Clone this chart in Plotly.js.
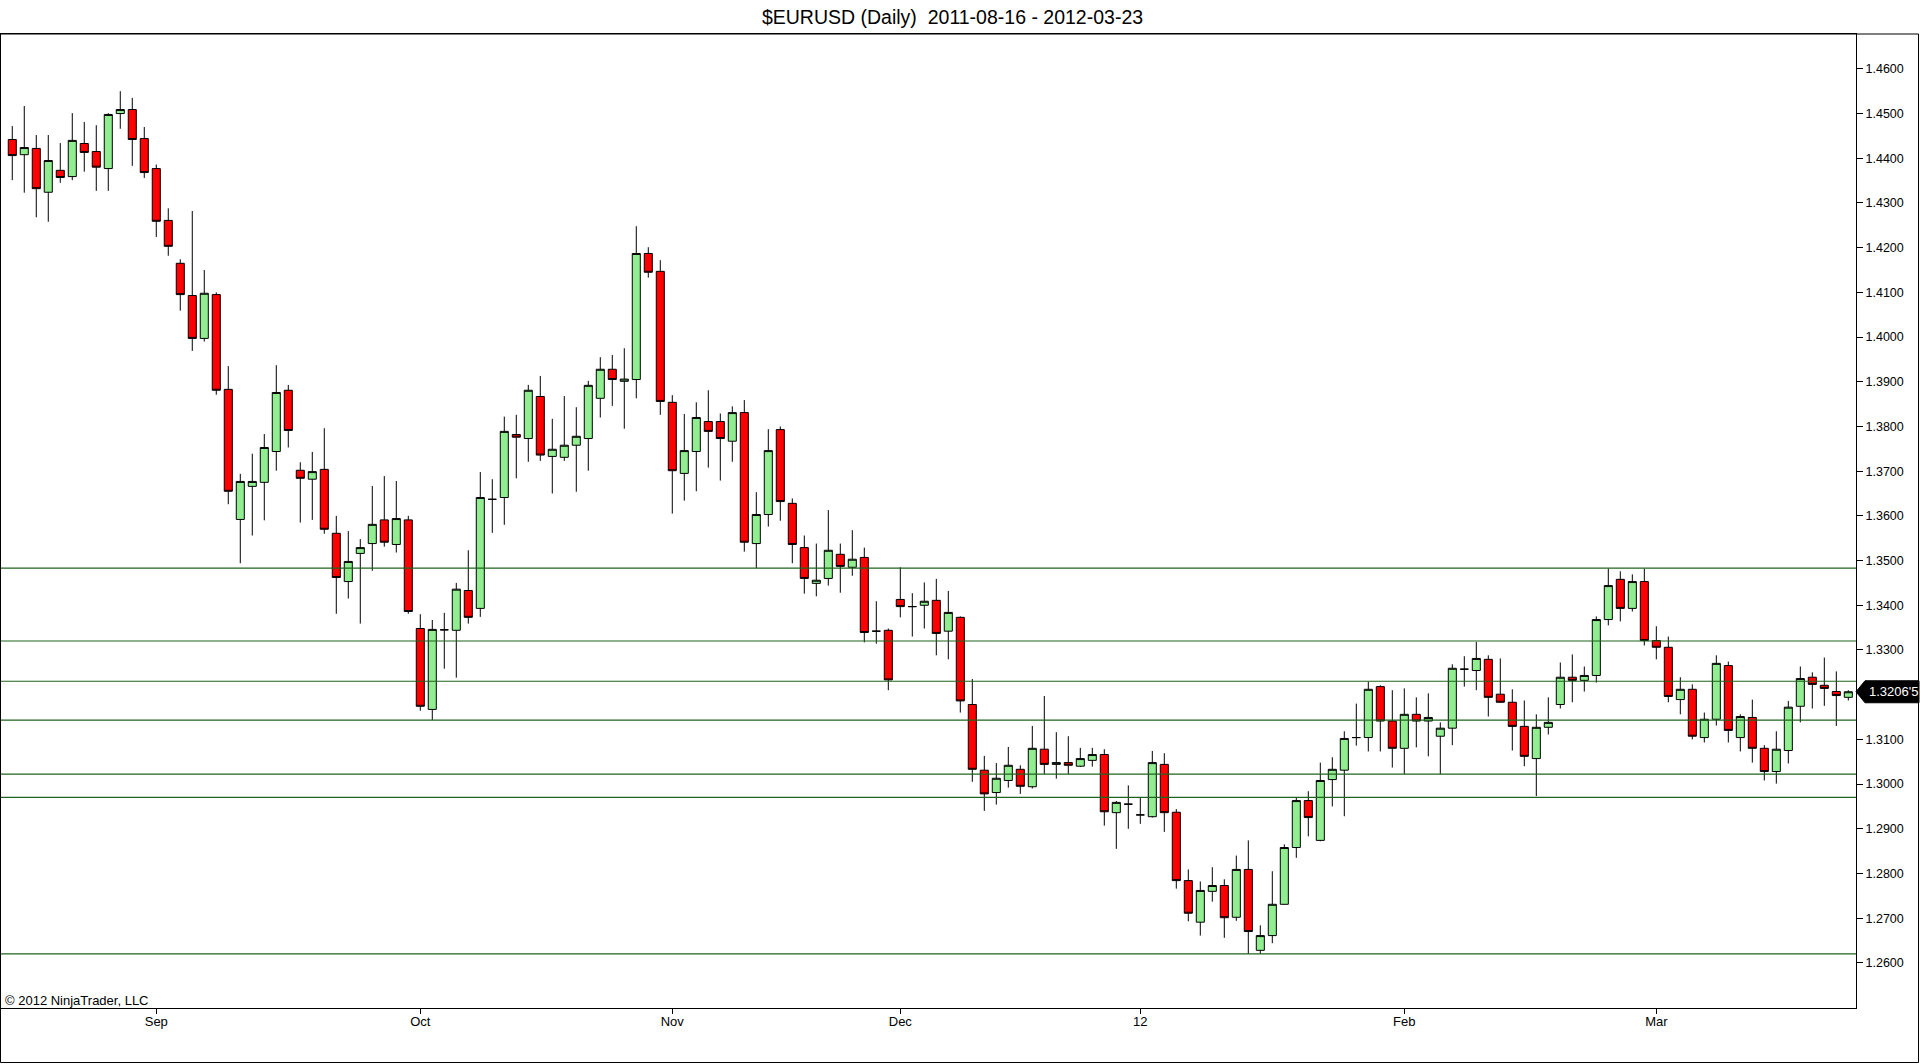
<!DOCTYPE html>
<html>
<head>
<meta charset="utf-8">
<script src="https://cdn.plot.ly/plotly-3.0.1.min.js"></script>
<style>
html,body{margin:0;padding:0;background:#ffffff;}
#chart{width:1920px;height:1064px;}
</style>
</head>
<body>
<div id="chart"></div>
<script>
// ---- data ----
const dates = [
'2011-08-16','2011-08-17','2011-08-18','2011-08-19','2011-08-22','2011-08-23','2011-08-24','2011-08-25','2011-08-26','2011-08-29','2011-08-30','2011-08-31',
'2011-09-01','2011-09-02','2011-09-05','2011-09-06','2011-09-07','2011-09-08','2011-09-09','2011-09-12','2011-09-13','2011-09-14','2011-09-15','2011-09-16',
'2011-09-19','2011-09-20','2011-09-21','2011-09-22','2011-09-23','2011-09-26','2011-09-27','2011-09-28','2011-09-29','2011-09-30',
'2011-10-03','2011-10-04','2011-10-05','2011-10-06','2011-10-07','2011-10-10','2011-10-11','2011-10-12','2011-10-13','2011-10-14',
'2011-10-17','2011-10-18','2011-10-19','2011-10-20','2011-10-21','2011-10-24','2011-10-25','2011-10-26','2011-10-27','2011-10-28','2011-10-31',
'2011-11-01','2011-11-02','2011-11-03','2011-11-04','2011-11-07','2011-11-08','2011-11-09','2011-11-10','2011-11-14','2011-11-15',
'2011-11-16','2011-11-17','2011-11-18','2011-11-21','2011-11-22','2011-11-23','2011-11-28','2011-11-29','2011-11-30',
'2011-12-01','2011-12-02','2011-12-05','2011-12-06','2011-12-07','2011-12-08','2011-12-09','2011-12-12','2011-12-13','2011-12-14',
'2011-12-15','2011-12-16','2011-12-19','2011-12-20','2011-12-21','2011-12-22','2011-12-23','2011-12-27','2011-12-28','2011-12-29',
'2012-01-02','2012-01-03','2012-01-04','2012-01-05','2012-01-06','2012-01-09','2012-01-10','2012-01-11','2012-01-12','2012-01-13',
'2012-01-16','2012-01-17','2012-01-18','2012-01-19','2012-01-20','2012-01-23','2012-01-24','2012-01-25','2012-01-26','2012-01-27','2012-01-30','2012-01-31',
'2012-02-01','2012-02-02','2012-02-03','2012-02-06','2012-02-07','2012-02-08','2012-02-09','2012-02-10','2012-02-13','2012-02-14',
'2012-02-15','2012-02-16','2012-02-17','2012-02-20','2012-02-21','2012-02-22','2012-02-23','2012-02-24','2012-02-27','2012-02-28','2012-02-29',
'2012-03-01','2012-03-02','2012-03-05','2012-03-06','2012-03-07','2012-03-08','2012-03-09','2012-03-12','2012-03-13','2012-03-14',
'2012-03-15','2012-03-16','2012-03-19','2012-03-20','2012-03-21','2012-03-22','2012-03-23'
];
const openP = [
1.4442,1.4408,1.4422,1.4324,1.4373,1.4359,1.4433,1.4415,1.4377,1.4500,1.4509,1.4444,
1.4377,1.4261,1.4165,1.4093,1.3997,1.4095,1.3883,1.3592,1.3666,1.3675,1.3744,1.3881,
1.3702,1.3682,1.3704,1.3561,1.3453,1.3516,1.3538,1.3591,1.3536,1.3591,
1.3348,1.3167,1.3345,1.3344,1.3433,1.3393,1.3637,1.3641,1.3782,1.3773,
1.3867,1.3733,1.3731,1.3758,1.3773,1.3863,1.3928,1.3901,1.3905,1.4187,1.4147,
1.3854,1.3695,1.3744,1.3811,1.3811,1.3767,1.3831,1.3538,1.3603,1.3793,
1.3628,1.3529,1.3449,1.3460,1.3514,1.3485,1.3507,1.3342,1.3344,
1.3413,1.3397,1.3400,1.3411,1.3342,1.3373,1.3178,1.3031,1.2981,1.3008,
1.3033,1.2994,1.3078,1.3044,1.3048,1.3040,1.3053,1.3066,1.2936,1.2955,
1.2931,1.2927,1.3044,1.2937,1.2784,1.2691,1.2760,1.2773,1.2702,1.2809,
1.2628,1.2661,1.2731,1.2858,1.2963,1.2874,1.3010,1.3031,1.3104,1.3104,1.3218,1.3141,
1.3080,1.3156,1.3141,1.3107,1.3125,1.3257,1.3254,1.3279,1.3201,1.3183,
1.3129,1.3057,1.3127,1.3178,1.3239,1.3232,1.3243,1.3368,1.3458,1.3393,1.3453,
1.3321,1.3306,1.3189,1.3212,1.3104,1.3145,1.3265,1.3104,1.3149,1.3080,
1.3028,1.3075,1.3174,1.3239,1.3221,1.3207,1.3194
];
const highP = [
1.4472,1.4517,1.4452,1.4452,1.4434,1.4501,1.4481,1.4474,1.4501,1.4550,1.4535,1.4470,
1.4386,1.4288,1.4174,1.4282,1.4150,1.4100,1.3935,1.3694,1.3739,1.3783,1.3937,1.3893,
1.3720,1.3743,1.3796,1.3600,1.3566,1.3548,1.3667,1.3689,1.3678,1.3600,
1.3380,1.3367,1.3383,1.3450,1.3523,1.3698,1.3682,1.3822,1.3826,1.3893,
1.3913,1.3817,1.3868,1.3843,1.3902,1.3955,1.3960,1.3975,1.4248,1.4201,1.4172,
1.3870,1.3828,1.3854,1.3881,1.3829,1.3845,1.3859,1.3653,1.3794,1.3800,
1.3639,1.3556,1.3538,1.3613,1.3538,1.3568,1.3529,1.3409,1.3348,
1.3485,1.3427,1.3451,1.3459,1.3432,1.3375,1.3235,1.3063,1.3047,1.3083,
1.3042,1.3130,1.3197,1.3116,1.3107,1.3081,1.3081,1.3078,1.2962,1.2997,
1.2970,1.3074,1.3069,1.2944,1.2809,1.2782,1.2814,1.2787,1.2840,1.2874,
1.2684,1.2805,1.2865,1.2970,1.2984,1.3048,1.3060,1.3118,1.3180,1.3229,1.3221,1.3210,
1.3214,1.3194,1.3203,1.3138,1.3268,1.3286,1.3318,1.3288,1.3281,1.3212,
1.3187,1.3156,1.3194,1.3272,1.3290,1.3263,1.3375,1.3482,1.3476,1.3469,1.3482,
1.3353,1.3330,1.3239,1.3223,1.3160,1.3288,1.3274,1.3156,1.3189,1.3087,
1.3118,1.3186,1.3263,1.3250,1.3283,1.3252,1.3210
];
const lowP = [
1.4351,1.4323,1.4268,1.4258,1.4345,1.4351,1.4370,1.4327,1.4327,1.4466,1.4383,1.4356,
1.4224,1.4182,1.4059,1.3969,1.3990,1.3871,1.3626,1.3494,1.3556,1.3590,1.3701,1.3753,
1.3585,1.3591,1.3560,1.3381,1.3415,1.3359,1.3477,1.3531,1.3518,1.3381,
1.3164,1.3143,1.3258,1.3238,1.3359,1.3374,1.3562,1.3580,1.3684,1.3721,
1.3723,1.3650,1.3723,1.3654,1.3701,1.3820,1.3846,1.3795,1.3863,1.4133,1.3826,
1.3605,1.3634,1.3655,1.3708,1.3679,1.3721,1.3520,1.3483,1.3576,1.3589,
1.3494,1.3426,1.3420,1.3444,1.3428,1.3466,1.3317,1.3314,1.3210,
1.3373,1.3330,1.3348,1.3288,1.3279,1.3160,1.3005,1.2940,1.2954,1.2992,
1.2978,1.2990,1.3022,1.3012,1.3022,1.3038,1.3039,1.2907,1.2855,1.2900,
1.2911,1.2925,1.2893,1.2766,1.2693,1.2661,1.2737,1.2656,1.2694,1.2620,
1.2620,1.2644,1.2730,1.2835,1.2883,1.2872,1.2950,1.2928,1.3086,1.3073,1.3073,1.3037,
1.3022,1.3082,1.3062,1.3022,1.3087,1.3218,1.3210,1.3151,1.3182,1.3075,
1.3040,1.2973,1.3111,1.3169,1.3183,1.3207,1.3227,1.3355,1.3364,1.3386,1.3310,
1.3279,1.3183,1.3156,1.3100,1.3093,1.3131,1.3093,1.3073,1.3048,1.3008,
1.3001,1.3046,1.3138,1.3169,1.3175,1.3130,1.3187
];
const closeP = [
1.4406,1.4424,1.4332,1.4395,1.4357,1.4440,1.4413,1.4380,1.4498,1.4509,1.4442,1.4368,
1.4259,1.4203,1.4095,1.3997,1.4098,1.3881,1.3655,1.3677,1.3677,1.3753,1.3876,1.3791,
1.3684,1.3699,1.3570,1.3462,1.3498,1.3529,1.3581,1.3541,1.3594,1.3386,
1.3174,1.3346,1.3345,1.3436,1.3373,1.3641,1.3637,1.3789,1.3776,1.3881,
1.3736,1.3749,1.3758,1.3778,1.3892,1.3928,1.3905,1.3906,1.4187,1.4145,1.3856,
1.3701,1.3746,1.3820,1.3789,1.3773,1.3831,1.3541,1.3603,1.3746,1.3632,
1.3536,1.3460,1.3456,1.3523,1.3487,1.3503,1.3339,1.3342,1.3233,
1.3397,1.3397,1.3409,1.3337,1.3384,1.3186,1.3033,1.2978,1.3013,1.3042,
1.2995,1.3080,1.3044,1.3048,1.3042,1.3057,1.3066,1.2938,1.2959,1.2955,
1.2931,1.3048,1.2936,1.2784,1.2711,1.2762,1.2773,1.2701,1.2809,1.2670,
1.2661,1.2731,1.2858,1.2963,1.2925,1.3008,1.3033,1.3102,1.3104,1.3212,1.3141,1.3080,
1.3156,1.3141,1.3149,1.3125,1.3259,1.3257,1.3281,1.3194,1.3183,1.3129,
1.3062,1.3127,1.3138,1.3239,1.3232,1.3243,1.3368,1.3444,1.3393,1.3453,1.3321,
1.3306,1.3196,1.3212,1.3107,1.3145,1.3270,1.3120,1.3151,1.3080,1.3028,
1.3078,1.3172,1.3236,1.3223,1.3214,1.3198,1.32065
];
const levels = [1.3483, 1.3320, 1.3230, 1.3143, 1.3022, 1.2970, 1.2620];
const monthTickDates = ['2011-09-01','2011-10-03','2011-11-01','2011-12-01','2012-01-02','2012-02-01','2012-03-01'];
const monthTickLabels = ['Sep','Oct','Nov','Dec','12','Feb','Mar'];
// 1.3200 is hidden behind the last-price marker in the reference
const priceTicks = [1.26,1.27,1.28,1.29,1.30,1.31,1.33,1.34,1.35,1.36,1.37,1.38,1.39,1.40,1.41,1.42,1.43,1.44,1.45,1.46];
const titleText = '$EURUSD (Daily) \u00a02011-08-16 - 2012-03-23';
const copyrightText = '\u00a9 2012 NinjaTrader, LLC';

// ---- layout geometry ----
const W = 1920, H = 1064;
const M = {l: 1, r: 64, t: 34, b: 56};
const plotW = W - M.l - M.r, plotH = H - M.t - M.b;
const yRange = [1.2499, 1.4678];
const xRange = [-0.94, dates.length - 1 + 0.64];
const FONT = 'Liberation Sans, Arial, sans-serif';

const pxToPaperX = px => (px - M.l) / plotW;
const pxToPaperY = py => (H - M.b - py) / plotH;
const dataPerPx = (yRange[1] - yRange[0]) / plotH;

const trace = {
  type: 'candlestick',
  x: dates, open: openP, high: highP, low: lowP, close: closeP,
  increasing: {line: {color: '#000000', width: 1}, fillcolor: '#90EE90'},
  decreasing: {line: {color: '#000000', width: 1}, fillcolor: '#FF0000'},
  whiskerwidth: 0,
  hoverinfo: 'skip',
  showlegend: false
};

const shapes = levels.map(v => ({
  type: 'line', xref: 'paper', yref: 'y', x0: 0, x1: 1, y0: v, y1: v,
  line: {color: '#1e641e', width: 1.2}
}));

// outer frame
shapes.push({
  type: 'rect', xref: 'paper', yref: 'paper',
  x0: pxToPaperX(0.5), x1: pxToPaperX(W - 1.5), y0: pxToPaperY(H - 1.5), y1: 1,
  line: {color: '#000000', width: 1}, fillcolor: 'rgba(0,0,0,0)', layer: 'above'
});

// last price marker
const last = closeP[closeP.length - 1];
const hh = 11 * dataPerPx;
const xTip = 1, xBody = pxToPaperX(M.l + plotW + 9), xEnd = pxToPaperX(W - 1);
shapes.push({
  type: 'path', xref: 'paper', yref: 'y',
  path: `M ${xTip} ${last} L ${xBody} ${last + hh} L ${xEnd} ${last + hh} L ${xEnd} ${last - hh} L ${xBody} ${last - hh} Z`,
  fillcolor: '#000000', line: {color: '#000000', width: 1}, layer: 'above'
});
const s = last.toFixed(5);
const lastLabel = s.slice(0, 6) + "'" + s.slice(6);

const layout = {
  width: W, height: H,
  margin: M,
  paper_bgcolor: '#ffffff', plot_bgcolor: '#ffffff',
  font: {family: FONT, color: '#000000', size: 13},
  title: {
    text: titleText, font: {family: FONT, size: 19.5, color: '#000000'},
    xref: 'container', yref: 'container', x: 952.5 / W, y: 1 - 17 / H,
    xanchor: 'center', yanchor: 'middle'
  },
  boxgap: 0.33, boxgroupgap: 0,
  xaxis: {
    type: 'category', range: xRange, rangeslider: {visible: false},
    showgrid: false, zeroline: false,
    showline: true, linecolor: '#000000', linewidth: 1, mirror: true,
    ticks: 'outside', ticklen: 5, tickcolor: '#000000', tickwidth: 1,
    ticklabelstandoff: -4,
    tickmode: 'array', tickvals: monthTickDates, ticktext: monthTickLabels,
    tickfont: {family: FONT, size: 13, color: '#000000'},
    fixedrange: true
  },
  yaxis: {
    side: 'right', range: yRange,
    showgrid: false, zeroline: false,
    showline: true, linecolor: '#000000', linewidth: 1, mirror: true,
    ticks: 'outside', ticklen: 6, tickcolor: '#000000', tickwidth: 1,
    tickmode: 'array', tickvals: priceTicks, tickformat: '.4f',
    tickfont: {family: FONT, size: 12.5, color: '#000000'},
    fixedrange: true
  },
  shapes: shapes,
  annotations: [
    {
      text: copyrightText, xref: 'paper', yref: 'paper',
      x: pxToPaperX(3), y: pxToPaperY(1000), xanchor: 'left', yanchor: 'middle',
      showarrow: false, font: {family: FONT, size: 13, color: '#000000'}
    },
    {
      text: lastLabel, xref: 'paper', yref: 'y',
      x: pxToPaperX(M.l + plotW + 11), y: last, xanchor: 'left', yanchor: 'middle',
      showarrow: false, font: {family: FONT, size: 13, color: '#ffffff'}
    }
  ],
  hovermode: false,
  dragmode: false
};

Plotly.newPlot('chart', [trace], layout, {displayModeBar: false, staticPlot: true});
</script>
</body>
</html>
